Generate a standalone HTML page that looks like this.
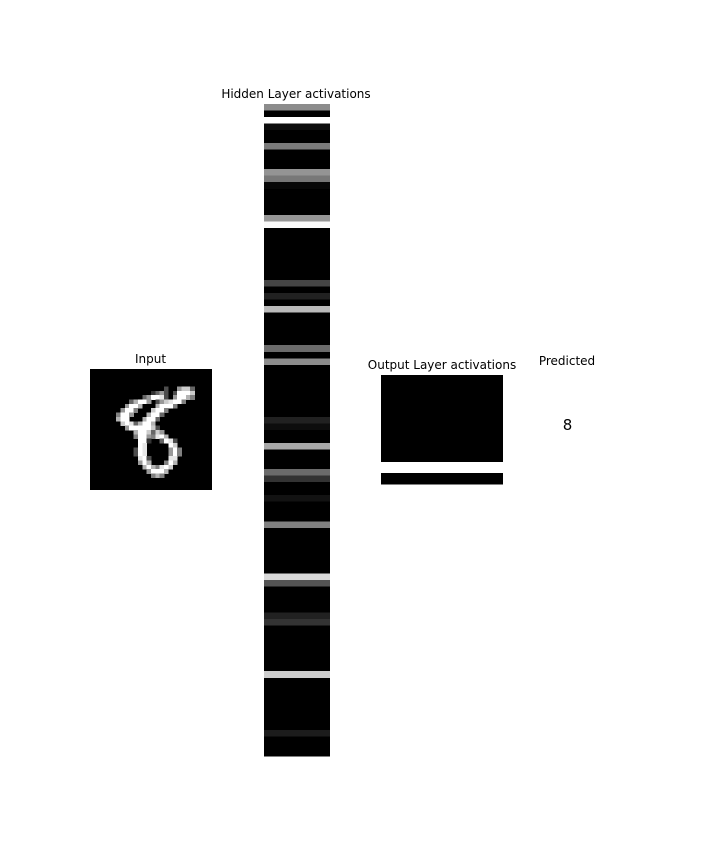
<!DOCTYPE html>
<html><head><meta charset="utf-8"><style>
html,body{margin:0;padding:0;background:#fff;}
svg{display:block;font-family:"DejaVu Sans","Liberation Sans",sans-serif;}
</style></head><body>
<svg id="chart" width="720" height="864" viewBox="0 0 720 864" xmlns="http://www.w3.org/2000/svg">
<text x="150.5" y="363" font-size="12" text-anchor="middle">Input</text>
<text x="296" y="98" font-size="12" text-anchor="middle">Hidden Layer activations</text>
<text x="442" y="369" font-size="12" text-anchor="middle">Output Layer activations</text>
<text x="567" y="365" font-size="12" text-anchor="middle">Predicted</text>
<text x="567.5" y="430" font-size="15" text-anchor="middle">8</text>
<g id="input"></g>
<g id="hidden"></g>
<g id="output"></g>
</svg>
<script>
// hidden layer activations (100 units, 0..1)
const hiddenValues = new Array(100).fill(0);
const hiddenNonZero = [[0,0.55],[2,1],[3,0.05],[6,0.48],[10,0.58],[11,0.47],[12,0.03],[17,0.59],[18,0.98],[27,0.27],[29,0.13],[31,0.73],[37,0.42],[39,0.55],[48,0.13],[49,0.05],[52,0.66],[56,0.42],[57,0.2],[60,0.07],[64,0.5],[72,0.85],[73,0.33],[78,0.13],[79,0.2],[87,0.8],[96,0.11]];
hiddenNonZero.forEach(([i,v])=>hiddenValues[i]=v);
// output layer activations (10 classes)
const outputValues = [0,0,0,0,0,0,0,0,1,0];
// input digit pixels (row, col, intensity)
const inputPixels = [
[4,17,0.3],[4,20,0.6],[4,21,0.8],[4,22,0.8],[4,23,0.4],
[5,14,0.2],[5,15,0.4],[5,16,0.6],[5,17,0.3],[5,19,0.3],[5,20,1],[5,21,1],[5,22,1],[5,23,0.8],
[6,12,0.4],[6,13,0.6],[6,14,1],[6,15,1],[6,16,0.9],[6,17,0.3],[6,19,0.6],[6,20,1],[6,21,1],[6,22,0.7],[6,23,0.5],
[7,9,0.4],[7,10,0.7],[7,11,1],[7,12,1],[7,13,0.6],[7,15,0.3],[7,16,0.6],[7,17,0.8],[7,18,0.9],[7,19,1],[7,20,1],[7,21,0.5],
[8,8,0.6],[8,9,1],[8,10,1],[8,11,0.7],[8,15,0.7],[8,16,1],[8,17,1],[8,18,1],[8,19,0.5],
[9,7,0.6],[9,8,1],[9,9,1],[9,10,0.5],[9,14,0.8],[9,15,1],[9,16,1],[9,17,0.5],
[10,6,0.5],[10,7,1],[10,8,1],[10,9,0.6],[10,13,0.7],[10,14,1],[10,15,1],[10,16,0.4],
[11,6,0.7],[11,7,1],[11,8,1],[11,12,0.7],[11,13,1],[11,14,1],[11,15,0.4],
[12,7,0.8],[12,8,1],[12,9,0.9],[12,10,0.4],[12,11,0.7],[12,12,1],[12,13,1],[12,14,0.7],
[13,8,0.6],[13,9,1],[13,10,1],[13,11,1],[13,12,1],[13,13,1],[13,14,0.8],[13,15,0.3],
[14,10,0.7],[14,11,1],[14,12,1],[14,13,0.8],[14,14,0.4],[14,15,0.8],[14,16,0.6],
[15,10,0.5],[15,11,1],[15,12,1],[15,13,0.6],[15,14,0.5],[15,15,0.9],[15,16,1],[15,17,0.7],
[16,11,1],[16,12,1],[16,13,0.2],[16,16,0.4],[16,17,1],[16,18,0.9],[16,19,0.3],
[17,11,1],[17,12,0.9],[17,18,1],[17,19,0.8],
[18,10,0.3],[18,11,1],[18,12,0.9],[18,18,0.6],[18,19,1],[18,20,0.5],
[19,10,0.3],[19,11,1],[19,12,0.9],[19,18,0.6],[19,19,1],[19,20,0.5],
[20,11,0.9],[20,12,1],[20,13,0.3],[20,18,0.9],[20,19,0.9],
[21,11,0.6],[21,12,1],[21,13,0.7],[21,17,0.5],[21,18,1],[21,19,0.7],
[22,12,0.7],[22,13,1],[22,14,0.7],[22,15,0.5],[22,16,0.9],[22,17,1],[22,18,0.8],
[23,13,0.6],[23,14,1],[23,15,1],[23,16,1],[23,17,0.7],
[24,14,0.5],[24,15,0.7],[24,16,0.5]];

const NS="http://www.w3.org/2000/svg";
function gray(v){const c=Math.round(Math.max(0,Math.min(1,v))*255);return `rgb(${c},${c},${c})`;}
function rect(parent,x,y,w,h,fill){const r=document.createElementNS(NS,'rect');r.setAttribute('x',x);r.setAttribute('y',y);r.setAttribute('width',w);r.setAttribute('height',h);r.setAttribute('fill',fill);r.setAttribute('shape-rendering','crispEdges');parent.appendChild(r);return r;}

// input image
const inG=document.getElementById('input');
const inX=90, inY=369, inS=122/28;
const bg=rect(inG,inX,inY,122,121,'#000');


inputPixels.forEach(([r,c,v])=>{
  const p=rect(inG,inX+c*inS,inY+r*inS,inS+0.3,inS+0.3,gray(v));
  
  
});

// hidden
const hG=document.getElementById('hidden');
const hX=264,hY=104,hW=66,hH=652;
const hy=i=>hY+i*hH/hiddenValues.length;
hiddenValues.forEach((v,i)=>{
  const r=rect(hG,hX,hy(i),hW,hy(i+1)-hy(i)+0.3,gray(v));
  
  
});

// output
const oG=document.getElementById('output');
const oX=381,oY=375,oW=122,oH=109;
const oy=i=>oY+i*oH/outputValues.length;
outputValues.forEach((v,i)=>{
  const r=rect(oG,oX,oy(i),oW,oy(i+1)-oy(i)+0.3,gray(v));
  
  
});
</script>
</body></html>
